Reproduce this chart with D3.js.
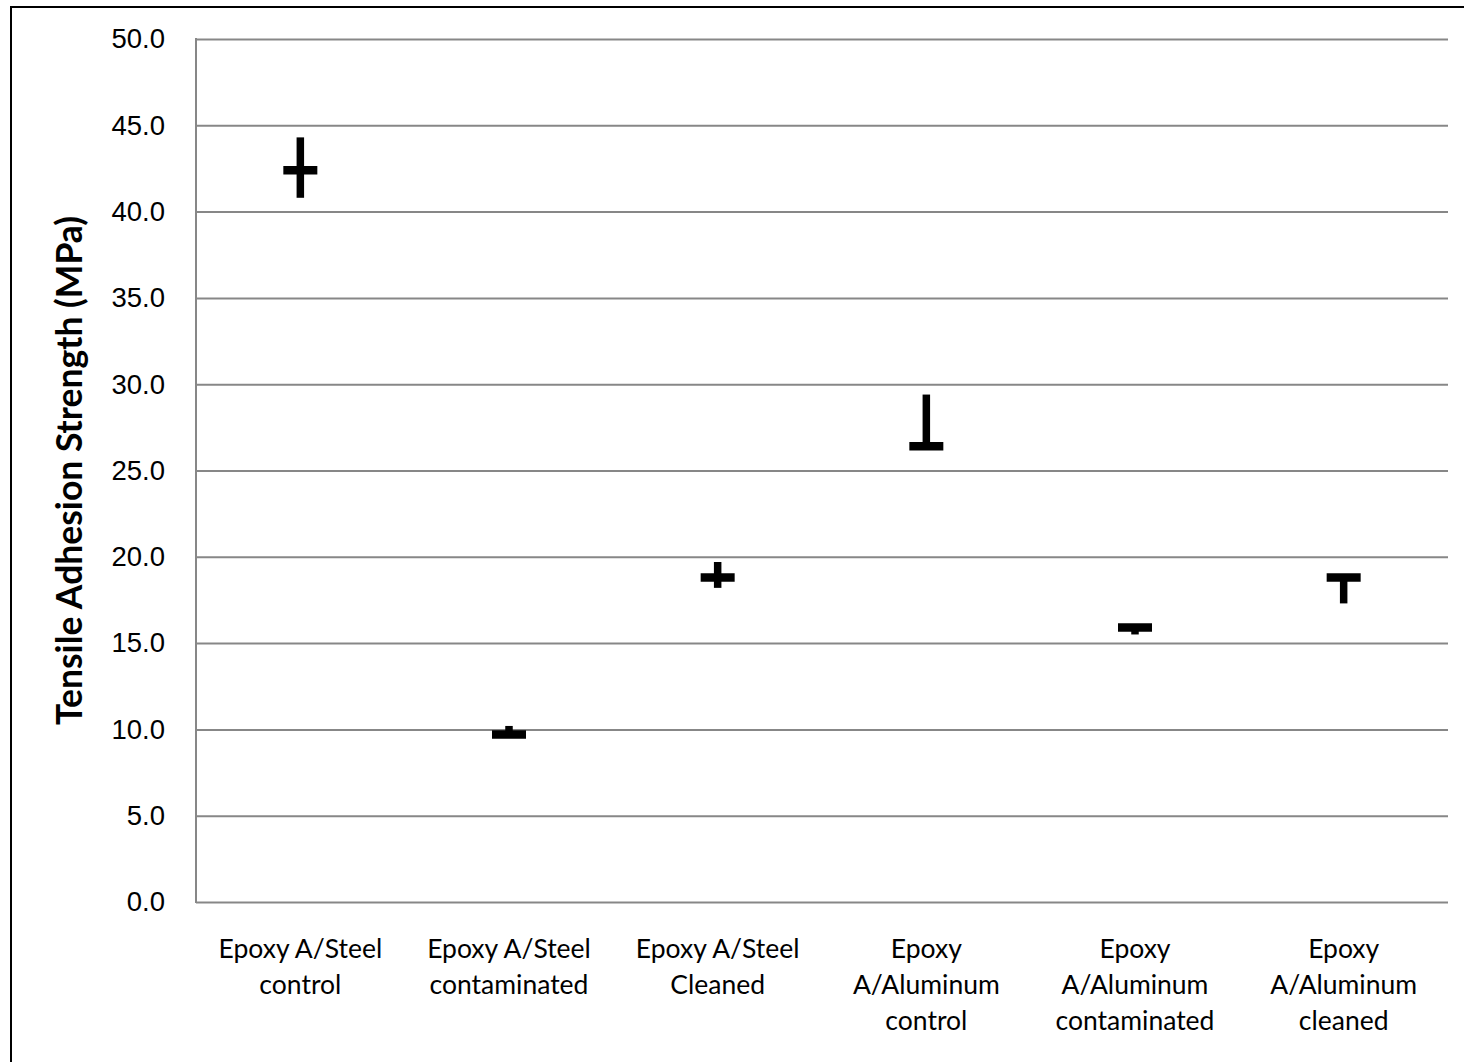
<!DOCTYPE html>
<html>
<head>
<meta charset="utf-8">
<script src="https://cdn.jsdelivr.net/npm/d3@7"></script>
<style>
  body { margin: 0; background: #fff; }
  svg { display: block; font-family: Lato, "Open Sans", sans-serif; }
</style>
</head>
<body>
<div id="chart"></div>
<script>
// categories, each split into its printed lines
const categories = [
  ["Epoxy A/Steel", "control"],
  ["Epoxy A/Steel", "contaminated"],
  ["Epoxy A/Steel", "Cleaned"],
  ["Epoxy", "A/Aluminum", "control"],
  ["Epoxy", "A/Aluminum", "contaminated"],
  ["Epoxy", "A/Aluminum", "cleaned"]
]
const highs = [44.3, 10.2, 19.7, 29.4, 16.0, 18.9]
const lows = [40.8, 9.5, 18.2, 26.2, 15.5, 17.3]
const means = [42.4, 9.7, 18.8, 26.4, 15.9, 18.8]
const yTicks = [0, 5, 10, 15, 20, 25, 30, 35, 40, 45, 50]

const width = 1464
const height = 1062
const margin = {top: 39, bottom: 160, left: 196, right: 16}

const data = categories.map((c, i) => ({key: i, lines: c, hi: highs[i], lo: lows[i], mean: means[i]}))

const svg = d3.select('#chart')
  .append('svg')
  .attr('width', width)
  .attr('height', height)

// outer chart border (runs off the bottom/right of the picture)
svg.append('rect')
  .attr('x', 11).attr('y', 7)
  .attr('width', width + 20).attr('height', height + 20)
  .attr('fill', 'none')
  .attr('stroke', '#000')
  .attr('stroke-width', 2)

const xScale = d3.scaleBand()
  .domain(data.map(d => d.key))
  .range([margin.left, width - margin.right])

const yScale = d3.scaleLinear()
  .domain([0, 50])
  .range([height - margin.bottom, margin.top])

// gridlines + tick labels
const yAxis = d3.axisLeft(yScale)
  .tickValues(yTicks)
  .tickFormat(d3.format('.1f'))
  .tickSize(-(width - margin.right - margin.left))
  .tickPadding(31)

const gy = svg.append('g')
  .attr('transform', 'translate(' + [margin.left, 0] + ')')
  .call(yAxis)
gy.select('.domain').remove()
gy.selectAll('.tick line')
  .attr('stroke', '#878787')
  .attr('stroke-width', 2)
gy.selectAll('.tick text')
  .attr('fill', '#000')
  .style('font-size', '27.5px')

// left axis line
svg.append('line')
  .attr('x1', margin.left).attr('x2', margin.left)
  .attr('y1', yScale(0) + 1).attr('y2', yScale(50) - 1)
  .attr('stroke', '#878787')
  .attr('stroke-width', 2)

// category labels
const xLabels = svg.append('g')
  .selectAll('text')
  .data(data)
  .join('text')
  .attr('x', d => xScale(d.key) + xScale.bandwidth() / 2)
  .attr('y', yScale(0) + 56)
  .attr('text-anchor', 'middle')
  .style('font-size', '26.5px')
  .attr('fill', '#000')
xLabels.selectAll('tspan')
  .data(d => d.lines.map(l => ({l, x: xScale(d.key) + xScale.bandwidth() / 2})))
  .join('tspan')
  .attr('x', t => t.x)
  .attr('dy', (t, i) => i === 0 ? 0 : 36)
  .text(t => t.l)

// y title
svg.append('text')
  .attr('transform', 'translate(' + [82, (yScale(0) + yScale(50)) / 2] + ') rotate(-90)')
  .attr('text-anchor', 'middle')
  .style('font-size', '35.5px')
  .style('font-weight', 'bold')
  .text('Tensile Adhesion Strength (MPa)')

// high-low lines
const marks = svg.append('g')
marks.selectAll('line.range')
  .data(data)
  .join('line')
  .attr('class', 'range')
  .attr('x1', d => xScale(d.key) + xScale.bandwidth() / 2)
  .attr('x2', d => xScale(d.key) + xScale.bandwidth() / 2)
  .attr('y1', d => yScale(d.hi))
  .attr('y2', d => yScale(d.lo))
  .attr('stroke', '#000')
  .attr('stroke-width', 7.5)

// mean bars
marks.selectAll('line.mean')
  .data(data)
  .join('line')
  .attr('class', 'mean')
  .attr('x1', d => xScale(d.key) + xScale.bandwidth() / 2 - 17)
  .attr('x2', d => xScale(d.key) + xScale.bandwidth() / 2 + 17)
  .attr('y1', d => yScale(d.mean))
  .attr('y2', d => yScale(d.mean))
  .attr('stroke', '#000')
  .attr('stroke-width', 8.5)
</script>
</body>
</html>
